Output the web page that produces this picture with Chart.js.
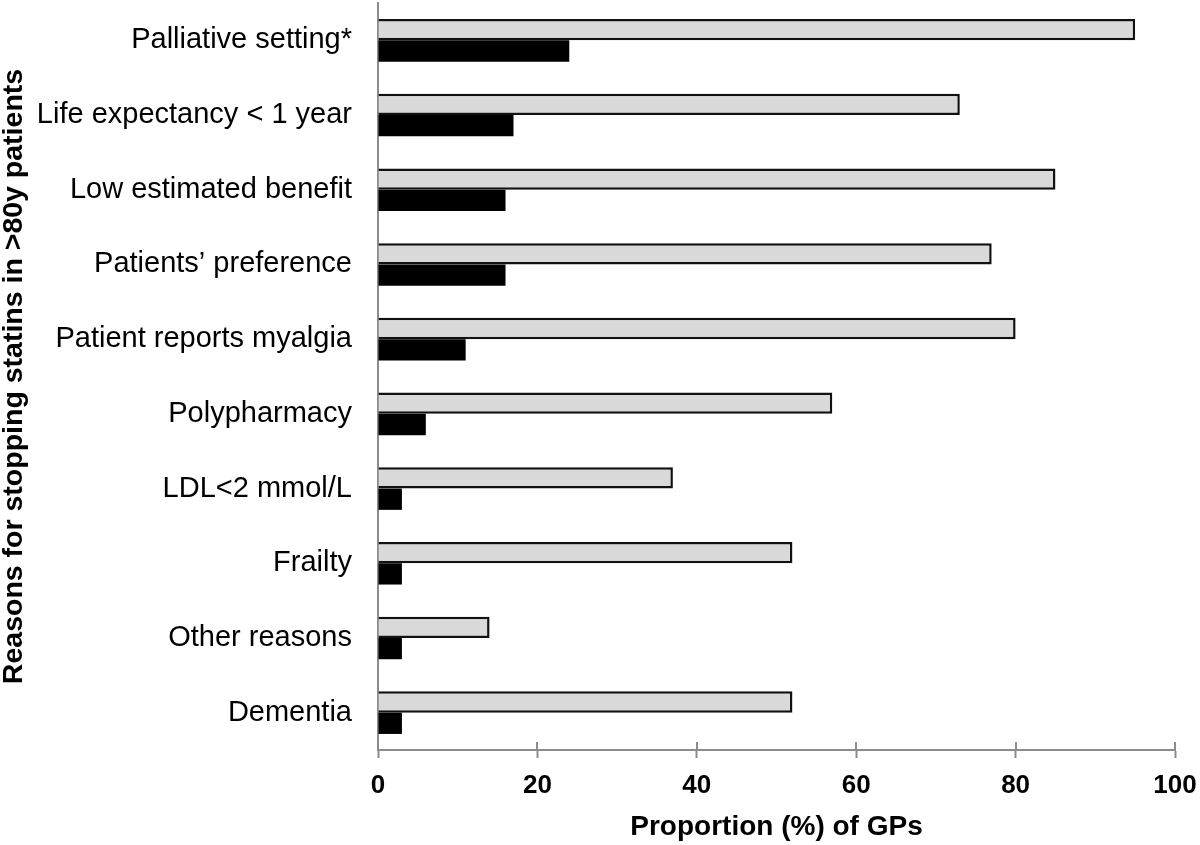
<!DOCTYPE html>
<html>
<head>
<meta charset="utf-8">
<script src="https://cdn.jsdelivr.net/npm/chart.js@4.4.0/dist/chart.umd.min.js"></script>
<style>
  html, body { margin: 0; padding: 0; background: #fff; }
  #wrap { width: 1200px; height: 845px; }
</style>
</head>
<body>
<div id="wrap"><canvas id="c" width="1200" height="845"></canvas></div>
<script>
const categories = [
  "Palliative setting*",
  "Life expectancy < 1 year",
  "Low estimated benefit",
  "Patients\u2019 preference",
  "Patient reports myalgia",
  "Polypharmacy",
  "LDL<2 mmol/L",
  "Frailty",
  "Other reasons",
  "Dementia"
];
const grayValues = [95, 73, 85, 77, 80, 57, 37, 52, 14, 52];
const blackValues = [24, 17, 16, 16, 11, 6, 3, 3, 3, 3];
const xTicks = [0, 20, 40, 60, 80, 100];
const xTitle = "Proportion (%) of GPs";
const yTitle = "Reasons for stopping statins in >80y patients";

const FONT = "'Liberation Sans', Arial, sans-serif";
const AXIS_GRAY = "#8c8c8c";

const crossTicks = {
  id: 'crossTicks',
  afterDraw(chart) {
    const x = chart.scales.x;
    const ctx = chart.ctx;
    ctx.save();
    ctx.strokeStyle = AXIS_GRAY;
    ctx.lineWidth = 2;
    xTicks.forEach(v => {
      const px = Math.round(x.getPixelForValue(v));
      ctx.beginPath();
      ctx.moveTo(px, x.top - 8);
      ctx.lineTo(px, x.top);
      ctx.stroke();
    });
    ctx.restore();
  }
};

new Chart(document.getElementById('c'), {
  type: 'bar',
  data: {
    labels: categories,
    datasets: [
      {
        data: grayValues,
        backgroundColor: '#d9d9d9',
        borderColor: '#111',
        borderWidth: 2.5,
        borderSkipped: 'start',
        barPercentage: 1.0,
        categoryPercentage: 0.57
      },
      {
        data: blackValues,
        backgroundColor: '#000',
        borderWidth: 0,
        barPercentage: 1.0,
        categoryPercentage: 0.57
      }
    ]
  },
  options: {
    indexAxis: 'y',
    responsive: false,
    animation: false,
    devicePixelRatio: 1,
    layout: { padding: { top: 3, right: 25, left: 0, bottom: 0 } },
    plugins: { legend: { display: false }, tooltip: { enabled: false } },
    scales: {
      x: {
        min: 0, max: 100,
        afterBuildTicks(s) { s.ticks = xTicks.map(v => ({ value: v })); },
        afterFit(s) { s.height = 95; s.paddingLeft = 0; s.paddingRight = 0; },
        grid: { drawOnChartArea: false, drawTicks: true, tickLength: 8, tickColor: AXIS_GRAY, tickWidth: 2 },
        border: { display: true, color: AXIS_GRAY, width: 2 },
        ticks: { padding: 12, color: '#000', font: { family: FONT, size: 26, weight: 'bold' }, maxRotation: 0 },
        title: { display: true, text: xTitle, color: '#000', font: { family: FONT, size: 28, weight: 'bold', lineHeight: 1 }, padding: { top: 0, bottom: 4 } }
      },
      y: {
        afterFit(s) { s.width = 378; s.paddingTop = 0; s.paddingBottom = 0; },
        grid: { display: true, drawOnChartArea: false, drawTicks: false },
        border: { display: true, color: AXIS_GRAY, width: 2 },
        ticks: { padding: 26, color: '#000', font: { family: FONT, size: 29 } },
        title: { display: true, text: yTitle, color: '#000', font: { family: FONT, size: 28.5, weight: 'bold', lineHeight: 1 }, padding: { top: 0, bottom: 0 } }
      }
    }
  },
  plugins: [crossTicks]
});
</script>
</body>
</html>
